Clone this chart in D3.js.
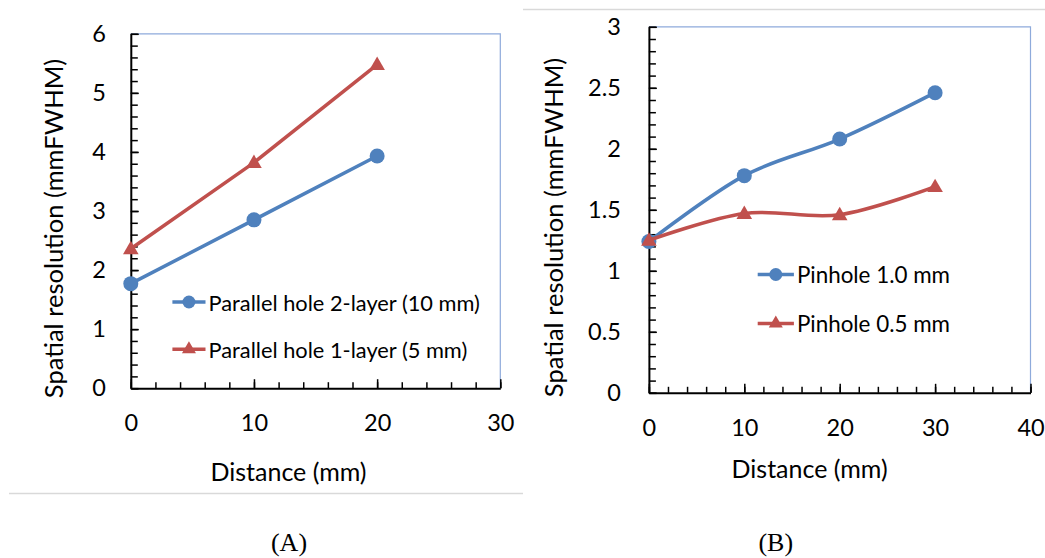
<!DOCTYPE html>
<html>
<head>
<meta charset="utf-8">
<script src="https://cdn.jsdelivr.net/npm/d3@7"></script>
<style>
  html, body { margin: 0; padding: 0; background: #ffffff; }
  svg { display: block; }
</style>
</head>
<body>
<svg id="chart" width="1045" height="558"></svg>
<script>
// ---------- data ----------
const distanceA = [0, 10, 20];
const parallel2Layer = [1.77, 2.85, 3.93];
const parallel1Layer = [2.36, 3.82, 5.48];
const seriesNamesA = ["Parallel hole 2-layer (10 mm)", "Parallel hole 1-layer (5 mm)"];

const distanceB = [0, 10, 20, 30];
const pinhole10 = [1.24, 1.78, 2.08, 2.46];
const pinhole05 = [1.25, 1.47, 1.46, 1.69];
const seriesNamesB = ["Pinhole 1.0 mm", "Pinhole 0.5 mm"];

const yTicksA = [0, 1, 2, 3, 4, 5, 6];
const xTicksA = [0, 10, 20, 30];
const yTicksB = [0, 0.5, 1, 1.5, 2, 2.5, 3];
const xTicksB = [0, 10, 20, 30, 40];

const xTitle = "Distance (mm)";
const yTitle = "Spatial resolution (mmFWHM)";
const panelLabels = ["(A)", "(B)"];

// ---------- styles ----------
const BLUE = "#4f81bd";
const RED = "#c0504d";
const SANS = "Lato, 'Open Sans', sans-serif";
const svg = d3.select("#chart");

// panel frame lines (light gray)
svg.append("line").attr("x1", 9).attr("x2", 523).attr("y1", 493.5).attr("y2", 493.5)
  .attr("stroke", "#d9d9d9").attr("stroke-width", 1.5);
svg.append("line").attr("x1", 523).attr("x2", 1045).attr("y1", 9.5).attr("y2", 9.5)
  .attr("stroke", "#d9d9d9").attr("stroke-width", 1.5);

function range(a, b, step) {
  const out = [];
  for (let v = a; v <= b + 1e-9; v += step) out.push(+v.toFixed(6));
  return out;
}

function drawPanel(cfg) {
  const x = d3.scaleLinear().domain(cfg.xDomain).range([cfg.left, cfg.right]);
  const y = d3.scaleLinear().domain(cfg.yDomain).range([cfg.bottom, cfg.top]);
  const g = svg.append("g");

  // top/right border of plot area
  g.append("path")
    .attr("d", `M${cfg.left},${cfg.top}H${cfg.right}V${cfg.bottom}`)
    .attr("fill", "none").attr("stroke", "#8eaadb").attr("stroke-width", 1.2);

  // minor ticks
  const yMinor = g.append("g").attr("transform", `translate(${cfg.left},0)`)
    .call(d3.axisLeft(y).tickValues(range(cfg.yDomain[0], cfg.yDomain[1], cfg.yMinor))
      .tickSize(-7).tickSizeOuter(0).tickFormat(""));
  yMinor.select(".domain").remove();
  yMinor.selectAll("line").attr("stroke", "#000").attr("stroke-width", 1.5);

  const xMinor = g.append("g").attr("transform", `translate(0,${cfg.bottom})`)
    .call(d3.axisBottom(x).tickValues(range(cfg.xDomain[0], cfg.xDomain[1], cfg.xMinor))
      .tickSize(-6).tickSizeOuter(0).tickFormat(""));
  xMinor.select(".domain").remove();
  xMinor.selectAll("line").attr("stroke", "#000").attr("stroke-width", 1.5);

  // major axes
  const yAxis = g.append("g").attr("transform", `translate(${cfg.left},0)`)
    .call(d3.axisLeft(y).tickValues(cfg.yTicks).tickSize(-8).tickSizeOuter(0)
      .tickPadding(cfg.yPad).tickFormat(d => String(d)));
  const xAxis = g.append("g").attr("transform", `translate(0,${cfg.bottom})`)
    .call(d3.axisBottom(x).tickValues(cfg.xTicks).tickSize(-9).tickSizeOuter(0)
      .tickPadding(cfg.xPad).tickFormat(d => String(d)));
  [yAxis, xAxis].forEach(a => {
    a.select(".domain").attr("stroke", "#000").attr("stroke-width", 2);
    a.selectAll("line").attr("stroke", "#000").attr("stroke-width", 1.5);
    a.selectAll("text").attr("font-family", SANS).attr("font-size", 23.5).attr("fill", "#000");
  });

  // axis titles
  g.append("text").attr("x", cfg.xTitleX).attr("y", cfg.xTitleY)
    .attr("text-anchor", "middle").attr("font-family", SANS).attr("font-size", 25).text(xTitle);
  g.append("text")
    .attr("transform", `translate(${cfg.yTitleX},${cfg.yTitleY}) rotate(-90)`)
    .attr("text-anchor", "middle").attr("font-family", SANS).attr("font-size", 25.5).text(yTitle);

  // series
  const line = d3.line().x(d => x(d[0])).y(d => y(d[1])).curve(cfg.curve);
  const tri = d3.symbol().type(d3.symbolTriangle).size(105);
  cfg.series.forEach((s, i) => {
    const pts = s.xs.map((xv, k) => [xv, s.ys[k]]);
    g.append("path").datum(pts).attr("d", line)
      .attr("fill", "none").attr("stroke", s.color).attr("stroke-width", 3.5)
      .attr("stroke-linejoin", "round");
    if (s.marker === "circle") {
      g.selectAll(null).data(pts).enter().append("circle")
        .attr("cx", d => x(d[0])).attr("cy", d => y(d[1])).attr("r", 7.5).attr("fill", s.color);
    } else {
      g.selectAll(null).data(pts).enter().append("path")
        .attr("d", tri).attr("transform", d => `translate(${x(d[0])},${y(d[1]) + 1})`)
        .attr("fill", s.color);
    }
    // legend entry
    const ly = cfg.legendY[i];
    g.append("line").attr("x1", cfg.legendX0).attr("x2", cfg.legendX1)
      .attr("y1", ly).attr("y2", ly).attr("stroke", s.color).attr("stroke-width", 3.5);
    const mx = (cfg.legendX0 + cfg.legendX1) / 2;
    if (s.marker === "circle") {
      g.append("circle").attr("cx", mx).attr("cy", ly).attr("r", 6.5).attr("fill", s.color);
    } else {
      g.append("path").attr("d", d3.symbol().type(d3.symbolTriangle).size(85))
        .attr("transform", `translate(${mx},${ly})`).attr("fill", s.color);
    }
    g.append("text").attr("x", cfg.legendX1 + 3).attr("y", ly)
      .attr("dominant-baseline", "central").attr("font-family", SANS)
      .attr("font-size", cfg.legendSize).text(s.name);
  });

  // panel label
  svg.append("text").attr("x", cfg.labelX).attr("y", 551)
    .attr("text-anchor", "middle")
    .attr("font-family", "'Liberation Serif', 'Times New Roman', serif")
    .attr("font-size", 26).text(cfg.label);
}

drawPanel({
  left: 130.8, right: 500.3, top: 33.8, bottom: 388.2,
  xDomain: [0, 30], yDomain: [0, 6], xMinor: 2, yMinor: 0.2,
  xTicks: xTicksA, yTicks: yTicksA, yPad: 25, xPad: 26,
  xTitleX: 288.5, xTitleY: 481, yTitleX: 63, yTitleY: 228.5,
  curve: d3.curveLinear,
  series: [
    { xs: distanceA, ys: parallel2Layer, color: BLUE, marker: "circle", name: seriesNamesA[0] },
    { xs: distanceA, ys: parallel1Layer, color: RED, marker: "triangle", name: seriesNamesA[1] }
  ],
  legendY: [302, 349.3], legendX0: 172.4, legendX1: 205.5, legendSize: 21.8,
  labelX: 289, label: panelLabels[0]
});

drawPanel({
  left: 648.9, right: 1030.5, top: 26.8, bottom: 392.8,
  xDomain: [0, 40], yDomain: [0, 3], xMinor: 2, yMinor: 0.1,
  xTicks: xTicksB, yTicks: yTicksB, yPad: 28, xPad: 27,
  xTitleX: 809.6, xTitleY: 478, yTitleX: 563, yTitleY: 227.5,
  curve: d3.curveCatmullRom.alpha(0),
  series: [
    { xs: distanceB, ys: pinhole10, color: BLUE, marker: "circle", name: seriesNamesB[0] },
    { xs: distanceB, ys: pinhole05, color: RED, marker: "triangle", name: seriesNamesB[1] }
  ],
  legendY: [274.5, 323.5], legendX0: 757.7, legendX1: 793.9, legendSize: 22.4,
  labelX: 775.8, label: panelLabels[1]
});
</script>
</body>
</html>
